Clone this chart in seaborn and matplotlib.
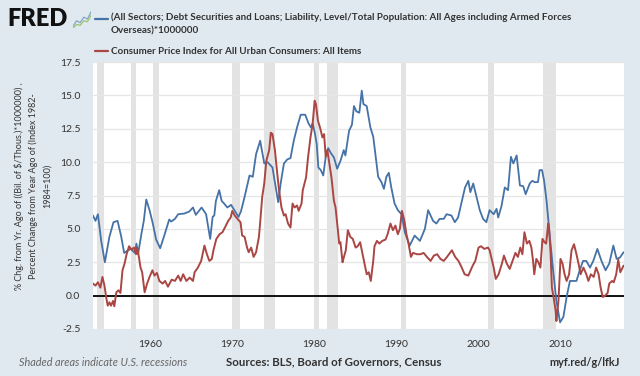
import matplotlib
matplotlib.use("Agg")
import matplotlib.pyplot as plt
import numpy as np
import pandas as pd
import seaborn as sns
from matplotlib.lines import Line2D

# debt per capita, % change from year ago (quarterly-ish readings)
debt_years = [
    1953.0, 1953.3, 1953.6, 1954.0, 1954.45, 1955.0, 1955.5, 1956.0, 1956.45, 1956.8,
    1957.3, 1957.6, 1958.1, 1958.3, 1958.5, 1958.9, 1959.2, 1959.5, 1959.9,
    1960.3, 1960.7, 1961.2, 1961.75, 1962.3, 1962.55, 1963.0, 1963.4, 1964.15, 1964.75,
    1965.2, 1965.55, 1966.25, 1966.8, 1967.3, 1967.6, 1967.8, 1968.0, 1968.4, 1968.7,
    1969.0, 1969.4, 1969.85,
    1970.25, 1970.75, 1971.05, 1971.5, 1972.1, 1972.5, 1972.9, 1973.4, 1973.9, 1974.3,
    1974.9, 1975.3, 1975.6, 1975.9, 1976.3, 1976.7, 1977.1, 1977.5, 1977.9, 1978.35,
    1978.9, 1979.3, 1979.6, 1979.8,
    1980.1, 1980.3, 1980.5, 1980.8, 1981.1, 1981.4, 1981.7, 1982.0, 1982.4, 1982.8,
    1983.2, 1983.6, 1983.8, 1984.25, 1984.6, 1984.85, 1985.15, 1985.5, 1985.8, 1986.0,
    1986.4, 1986.85, 1987.2, 1987.5, 1987.8, 1988.2, 1988.5, 1988.8, 1989.1, 1989.4,
    1989.8,
    1990.2, 1990.65, 1991.05, 1991.65, 1992.25, 1992.9, 1993.5, 1993.9, 1994.5, 1994.9,
    1995.3, 1995.8, 1996.15, 1996.75, 1997.15, 1997.55, 1997.95, 1998.4, 1998.8, 1999.05,
    1999.4, 1999.8,
    2000.2, 2000.6, 2001.0, 2001.4, 2001.9, 2002.25, 2002.45, 2002.85, 2003.25, 2003.65,
    2004.0, 2004.3, 2004.7, 2005.1, 2005.5, 2005.8, 2006.3, 2006.6, 2006.9, 2007.3,
    2007.5, 2007.8, 2008.05, 2008.35, 2008.75, 2009.15, 2009.55,
    2010.0, 2010.4, 2010.8, 2011.2, 2011.6, 2012.0, 2012.4, 2012.8, 2013.2, 2013.65,
    2014.05, 2014.55, 2015.05, 2015.55, 2016.0, 2016.5, 2016.9, 2017.3, 2017.75,
]
debt_values = [
    6.0, 5.6, 6.1, 4.1, 2.5, 4.4, 5.5, 5.6, 4.4, 3.2,
    3.4, 3.5, 3.2, 3.9, 3.1, 4.6, 5.6, 7.2, 6.4,
    5.4, 4.2, 3.55, 4.6, 5.7, 5.55, 5.75, 6.1, 6.15, 6.3,
    6.6, 6.05, 6.6, 6.1, 4.25, 5.9, 6.0, 7.1, 7.9, 7.1,
    6.9, 6.6, 6.8,
    6.4, 5.9, 6.3, 7.4, 9.0, 8.9, 10.6, 11.6, 9.9, 10.0,
    9.6, 8.1, 7.0, 8.4, 9.9, 10.2, 10.3, 11.6, 12.6, 13.55,
    13.55, 12.9, 12.6, 12.9,
    12.1, 11.35, 9.6, 9.4, 9.0, 10.4, 11.05, 10.7, 10.35, 9.5,
    10.1, 10.9, 10.5, 12.35, 12.8, 14.2, 13.8, 13.7, 15.35, 14.35,
    14.2, 12.6, 11.9, 10.4, 8.9, 8.5, 8.0, 8.9, 9.2, 8.1,
    6.9,
    6.4, 6.1, 4.75, 3.75, 4.5, 4.1, 5.0, 6.4, 5.6, 5.4,
    5.75, 5.75, 6.1, 6.0, 5.5, 5.85, 6.9, 8.1, 8.6, 7.75,
    8.4, 7.4,
    6.4, 5.75, 5.5, 6.4, 6.1, 6.5, 5.85, 6.7, 8.1, 7.9,
    10.4, 9.9, 10.5, 8.25, 8.2, 7.6, 8.4, 8.6, 8.5, 8.5,
    9.4, 9.4, 8.6, 7.1, 4.4, 1.9, -0.4,
    -2.0, -1.6, -0.1, 1.1, 1.1, 1.1, 1.9, 2.6, 2.6, 2.1,
    2.6, 3.5, 2.6, 1.9, 2.4, 3.75, 2.75, 2.85, 3.25,
]

# CPI, % change from year ago
cpi_years = [
    1953.0, 1953.3, 1953.6, 1953.9, 1954.15, 1954.4, 1954.6, 1954.8, 1955.0, 1955.2,
    1955.45, 1955.6, 1955.85, 1956.1, 1956.35, 1956.6, 1956.85, 1957.1, 1957.4, 1957.7,
    1958.0, 1958.25, 1958.4, 1958.6, 1958.8, 1959.0, 1959.3, 1959.6, 1959.9,
    1960.25, 1960.5, 1960.8, 1961.1, 1961.5, 1961.8, 1962.15, 1962.6, 1963.0, 1963.4,
    1963.7, 1964.0, 1964.4, 1964.8, 1965.2, 1965.4, 1965.8, 1966.2, 1966.6, 1966.9,
    1967.2, 1967.5, 1967.7, 1968.05, 1968.45, 1968.8, 1969.1, 1969.5, 1969.8,
    1970.0, 1970.3, 1970.7, 1971.0, 1971.2, 1971.5, 1971.8, 1972.0, 1972.3, 1972.6,
    1972.9, 1973.25, 1973.45, 1973.65, 1973.9, 1974.15, 1974.5, 1974.7, 1974.9, 1975.2,
    1975.45, 1975.7, 1976.0, 1976.3, 1976.5, 1976.8, 1977.1, 1977.35, 1977.6, 1977.9,
    1978.1, 1978.45, 1978.6, 1979.0, 1979.25, 1979.55, 1979.8,
    1980.05, 1980.2, 1980.45, 1980.7, 1981.0, 1981.2, 1981.4, 1981.6, 1981.8, 1982.1,
    1982.4, 1982.6, 1982.8, 1983.05, 1983.2, 1983.45, 1983.6, 1983.85, 1984.1, 1984.4,
    1984.7, 1985.05, 1985.3, 1985.6, 1985.8, 1986.2, 1986.4, 1986.65, 1986.9, 1987.2,
    1987.35, 1987.65, 1987.95, 1988.3, 1988.7, 1988.95, 1989.3, 1989.6, 1989.9,
    1990.2, 1990.45, 1990.7, 1991.0, 1991.25, 1991.5, 1991.8, 1992.05, 1992.55, 1992.95,
    1993.35, 1993.75, 1994.2, 1994.6, 1995.0, 1995.4, 1995.8, 1996.2, 1996.8, 1997.2,
    1997.6, 1998.0, 1998.35, 1998.8, 1999.3, 1999.65,
    2000.05, 2000.35, 2000.75, 2001.2, 2001.4, 2001.9, 2002.15, 2002.5, 2002.9, 2003.15,
    2003.5, 2003.85, 2004.2, 2004.55, 2004.85, 2005.15, 2005.4, 2005.65, 2005.95, 2006.25,
    2006.5, 2006.7, 2006.85, 2007.1, 2007.35, 2007.6, 2007.85, 2008.1, 2008.3, 2008.55,
    2008.65, 2008.85, 2009.0, 2009.2, 2009.45, 2009.55, 2009.8,
    2010.05, 2010.3, 2010.55, 2010.8, 2011.1, 2011.4, 2011.7, 2012.0, 2012.25, 2012.5,
    2012.85, 2013.2, 2013.45, 2013.75, 2014.1, 2014.4, 2014.7, 2014.95, 2015.2, 2015.5,
    2015.8, 2016.0, 2016.35, 2016.55, 2016.85, 2017.1, 2017.35, 2017.75,
]
cpi_values = [
    0.9, 0.75, 1.0, 0.6, 1.4, 0.75, -0.1, -0.75, -0.5, -0.75,
    -0.4, -0.8, 0.25, 0.4, 0.2, 1.9, 2.4, 3.1, 3.7, 3.45,
    3.6, 3.1, 3.6, 2.9, 2.1, 1.75, 0.25, 0.9, 1.4,
    1.9, 1.5, 1.7, 1.1, 0.9, 1.1, 0.67, 1.2, 1.1, 1.5,
    1.1, 1.6, 1.1, 1.35, 1.1, 1.75, 2.1, 2.6, 3.75, 3.1,
    2.6, 2.75, 3.4, 4.25, 4.6, 4.75, 5.1, 5.6, 5.85,
    6.35, 6.0, 5.7, 5.5, 4.5, 4.4, 3.6, 3.25, 3.6, 2.9,
    3.25, 4.4, 5.85, 7.4, 8.4, 10.1, 10.9, 12.2, 12.1, 10.9,
    9.35, 7.9, 6.6, 6.0, 6.1, 5.4, 5.1, 6.9, 6.6, 6.75,
    6.35, 6.9, 7.9, 8.85, 10.4, 11.9, 12.85,
    14.6, 14.35, 13.1, 12.6, 11.85, 12.1, 10.4, 10.9, 10.1, 8.85,
    7.1, 6.6, 5.4, 3.9, 4.0, 2.5, 2.85, 3.4, 4.9, 4.4,
    4.25, 3.6, 3.7, 4.0, 3.4, 2.2, 1.6, 1.75, 1.1, 2.6,
    3.7, 4.1, 3.9, 4.1, 4.2, 4.6, 5.4, 4.9, 5.25,
    4.6, 5.0, 6.35, 5.6, 4.6, 3.9, 2.9, 3.2, 3.1, 3.1,
    3.2, 2.9, 2.6, 3.0, 3.1, 2.75, 2.6, 2.9, 3.4, 2.9,
    2.6, 2.1, 1.6, 1.5, 2.2, 2.6,
    3.6, 3.7, 3.5, 3.6, 3.4, 2.1, 1.25, 1.6, 2.4, 3.0,
    2.4, 2.0, 2.6, 3.2, 2.9, 3.6, 3.1, 4.75, 3.9, 4.1,
    3.6, 2.6, 1.6, 2.75, 2.5, 2.1, 4.25, 4.0, 3.9, 5.4,
    5.1, 3.1, 0.6, -0.1, -1.1, -1.9, -0.4,
    2.75, 2.4, 1.6, 1.1, 1.6, 3.4, 3.85, 3.1, 2.4, 1.6,
    2.1, 1.6, 1.1, 1.6, 1.4, 2.1, 1.6, 0.6, -0.1, 0.0,
    0.2, 0.9, 1.1, 1.0, 1.6, 2.7, 1.75, 2.25,
]

recession_starts = [1953.5, 1957.6, 1960.3, 1969.95, 1973.85, 1980.0, 1981.5, 1990.55, 2001.2, 2007.95]
recession_ends = [1954.37, 1958.3, 1961.1, 1970.9, 1975.2, 1980.55, 1982.9, 1991.2, 2001.9, 2009.5]

x_ticks = [1960, 1970, 1980, 1990, 2000, 2010]
y_ticks = [-2.5, 0.0, 2.5, 5.0, 7.5, 10.0, 12.5, 15.0, 17.5]

debt_label = ("(All Sectors; Debt Securities and Loans; Liability, Level/Total Population: "
              "All Ages including Armed Forces\nOverseas)*1000000")
cpi_label = "Consumer Price Index for All Urban Consumers: All Items"
y_label = ("% Chg. from Yr. Ago of ((Bil. of $/Thous.)*1000000) ,\n"
           "Percent Change from Year Ago of (Index 1982-\n1984=100)")

BG = "#E1E9F0"
BLUE = "#4572A7"
RED = "#AA4643"

sns.set_theme(style="white")
plt.rcParams["font.family"] = ["Lato", "DejaVu Sans"]

W, H = 640, 376
fig = plt.figure(figsize=(W / 100, H / 100), dpi=100, facecolor=BG)


def fx(x):
    return x / W


def fy(y):
    return 1 - y / H


ax = fig.add_axes([fx(93), fy(329), fx(624) - fx(93), fy(62) - fy(329)])
ax.set_facecolor("white")

for s, e in zip(recession_starts, recession_ends):
    ax.axvspan(s, e, color="#E3E3E3", lw=0, zorder=0)

debt = pd.DataFrame({"year": debt_years, "value": debt_values})
cpi = pd.DataFrame({"year": cpi_years, "value": cpi_values})
sns.lineplot(data=debt, x="year", y="value", color=BLUE, lw=1.3, ax=ax, zorder=3)
sns.lineplot(data=cpi, x="year", y="value", color=RED, lw=1.4, ax=ax, zorder=3)

ax.axhline(0, color="black", lw=1.3, zorder=2)

ax.set_xlim(1953.0, 2017.8)
ax.set_ylim(-2.5, 17.5)
ax.set_yticks(y_ticks)
ax.set_yticklabels([f"{v:.1f}" for v in y_ticks])
ax.set_xticks(x_ticks)
ax.set_xticklabels([str(v) for v in x_ticks])
ax.yaxis.grid(True, color="#E6E6E6", lw=0.9, zorder=1)
ax.xaxis.grid(False)
ax.set_axisbelow(True)
for sp in ax.spines.values():
    sp.set_visible(False)
ax.tick_params(axis="y", length=0, pad=9, labelsize=7.5, labelcolor="#333333")
ax.tick_params(axis="x", length=3, color="#D0D8E0", pad=5, labelsize=7.5, labelcolor="#333333")
ax.set_xlabel("")
ax.set_ylabel("")

fig.text(fx(33), fy(186), y_label, rotation=90, ha="center", va="center",
         multialignment="center", fontsize=6.5, linespacing=1.6, color="#333333")

# header: logo and legend
fig.text(fx(7), fy(19), "FRED", fontsize=17, fontweight="heavy", color="#111111",
         ha="left", va="center")
icon = fig.add_axes([fx(73), fy(28), fx(18), 18 / H])
icon.set_facecolor(BG)
icon.plot([0, 2, 4, 6, 8, 10], [1, 4, 3, 6, 5, 9], color="#7FA7C9", lw=0.9)
icon.plot([0, 2, 4, 6, 8, 10], [0, 2, 1.5, 4, 3.5, 7], color="#9CC36B", lw=0.9)
icon.set_xlim(0, 10)
icon.set_ylim(0, 10)
icon.axis("off")

fig.add_artist(Line2D([fx(95), fx(108)], [fy(19), fy(19)], color=BLUE, lw=1.6))
fig.add_artist(Line2D([fx(95), fx(108)], [fy(51), fy(51)], color=RED, lw=1.6))
fig.text(fx(111), fy(12), debt_label, fontsize=7.1, fontweight="bold", color="#333333",
         ha="left", va="top", linespacing=1.7)
fig.text(fx(111), fy(51), cpi_label, fontsize=7.1, fontweight="bold", color="#333333",
         ha="left", va="center")

# footer
fig.text(fx(19), fy(362), "Shaded areas indicate U.S. recessions", fontsize=7.8,
         style="italic", color="#666666", ha="left", va="center")
fig.text(fx(226), fy(362), "Sources: BLS, Board of Governors, Census", fontsize=8.3,
         fontweight="bold", color="#333333", ha="left", va="center")
fig.text(fx(620), fy(362), "myf.red/g/lfkJ", fontsize=7.8, fontweight="bold",
         color="#333333", ha="right", va="center")

fig.savefig("out.png", dpi=100, facecolor=BG)
